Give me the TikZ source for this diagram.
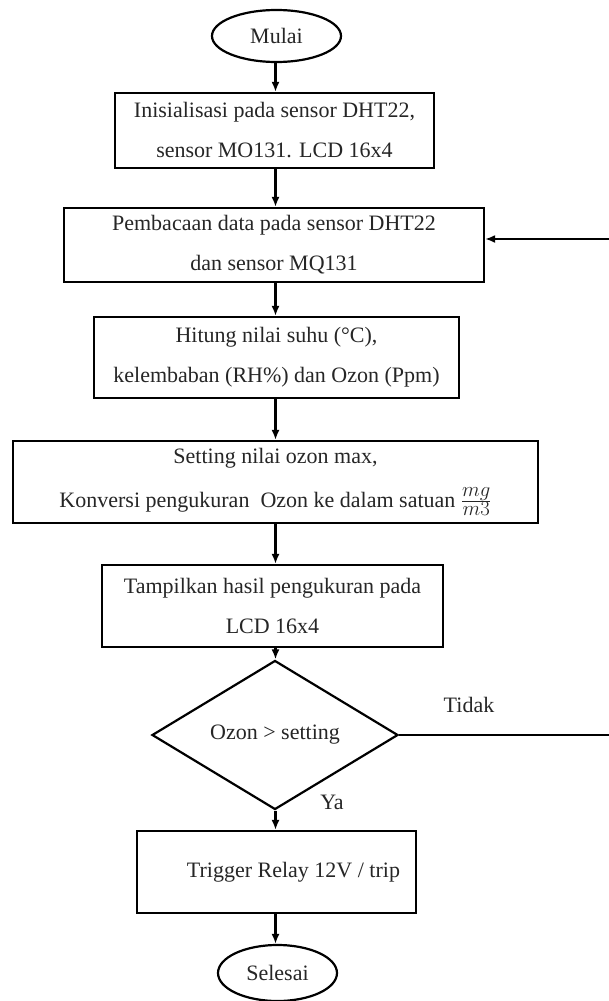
\documentclass[tikz,border=0pt]{standalone}
\usepackage{fontspec}
\setmainfont{Liberation Serif}
\usetikzlibrary{shapes.geometric,arrows.meta}
\begin{document}
\begin{tikzpicture}[x=1pt,y=-1pt,
  every node/.style={text=black!85, font=\fontsize{22}{40}\selectfont},
  procbox/.style={draw=black, line width=2.2pt, rectangle, inner sep=0pt, align=center},
  term/.style={draw=black, line width=2.2pt, ellipse, inner sep=0pt},
  decision/.style={draw=black, line width=2.2pt, diamond, inner sep=0pt},
  arr/.style={draw=black, line width=2.2pt, -{Latex[length=10pt,width=8pt]}},
  lbl/.style={inner sep=0pt}]
\useasboundingbox[fill=white] (0,0) rectangle (609,1001);
\coordinate (ax) at (275.5,0);
\coordinate (rt) at (614,0);

\node[term, minimum width=129pt, minimum height=52pt] (start) at (276.5,36) {Mulai};
\node[procbox, minimum width=319pt, minimum height=75pt] (b1) at (274.5,130.5)
  {Inisialisasi pada sensor DHT22,\\ sensor MO131. LCD 16x4};
\node[procbox, minimum width=420pt, minimum height=74pt] (b2) at (274,245)
  {Pembacaan data pada sensor DHT22\\ dan sensor MQ131};
\node[procbox, minimum width=365pt, minimum height=81pt] (b3) at (276.5,357.5)
  {Hitung nilai suhu (°C),\\ kelembaban (RH\%) dan Ozon (Ppm)};
\node[procbox, minimum width=525pt, minimum height=82pt] (b4) at (275.5,482)
  {Setting nilai ozon max,\\[4pt] Konversi pengukuran\ \ Ozon ke dalam satuan {\fontsize{28}{30}\selectfont$\frac{mg}{m3}$}};
\node[procbox, minimum width=341pt, minimum height=82pt] (b5) at (272.5,606)
  {Tampilkan hasil pengukuran pada\\ LCD 16x4};
\node[decision, minimum width=246pt, minimum height=114pt] (dec) at (275,735) {Ozon > setting};
\node[procbox, minimum width=279pt, minimum height=82pt] (b6) at (276.5,872)
  {\hspace*{34pt}Trigger Relay 12V / trip};
\node[term, minimum width=119pt, minimum height=56pt] (stop) at (277.5,973) {Selesai};

\node[lbl] (tidak) at (469,705) {Tidak};
\node[lbl] (ya) at (332,802) {Ya};

\draw[arr] (start.south -| ax) -- (b1.north -| ax);
\draw[arr] (b1.south -| ax) -- (b2.north -| ax);
\draw[arr] (b2.south -| ax) -- (b3.north -| ax);
\draw[arr] (b3.south -| ax) -- (b4.north -| ax);
\draw[arr] (b4.south -| ax) -- (b5.north -| ax);
\draw[arr] (b5.south -| ax) -- (dec.north -| ax);
\draw[arr] (dec.south -| ax) -- (b6.north -| ax);
\draw[arr] (b6.south -| ax) -- (stop.north -| ax);
\draw[arr] (dec.east) -- (dec.east -| rt) -- ([yshift=6pt]b2.east -| rt) -- ([yshift=6pt]b2.east);
\end{tikzpicture}
\end{document}
